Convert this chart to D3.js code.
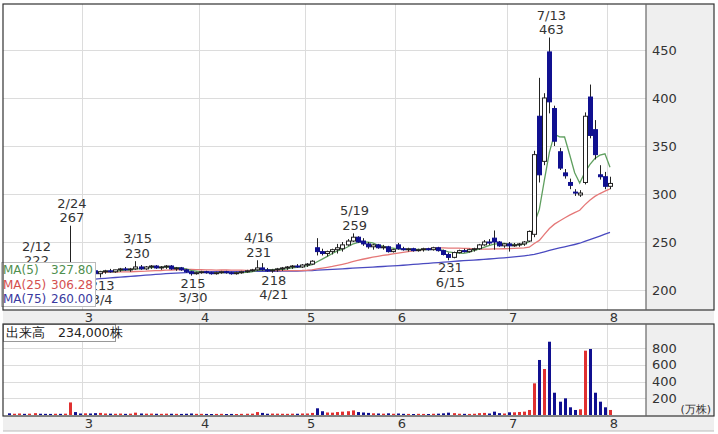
<!DOCTYPE html>
<html><head><meta charset="utf-8">
<script src="https://cdn.jsdelivr.net/npm/d3@7/dist/d3.min.js"></script>
<style>html,body{margin:0;padding:0;background:#fff;}svg{display:block;font-family:"DejaVu Sans",Verdana,sans-serif;}</style>
</head><body><svg id="c" width="718" height="434"></svg>
<script>
// ---- data ----
const dates = ["2/4","2/5","2/8","2/9","2/10","2/12","2/15","2/16","2/17","2/18","2/19","2/22","2/24","2/25","2/26",
"3/1","3/2","3/3","3/4","3/5","3/8","3/9","3/10","3/11","3/12","3/15","3/16","3/17","3/18","3/19","3/22","3/23","3/24","3/25","3/26","3/29","3/30","3/31",
"4/1","4/2","4/5","4/6","4/7","4/8","4/9","4/12","4/13","4/14","4/15","4/16","4/19","4/20","4/21","4/22","4/23","4/26","4/27","4/28","4/30",
"5/6","5/7","5/10","5/11","5/12","5/13","5/14","5/17","5/18","5/19","5/20","5/21","5/24","5/25","5/26","5/27","5/28","5/31",
"6/1","6/2","6/3","6/4","6/7","6/8","6/9","6/10","6/11","6/14","6/15","6/16","6/17","6/18","6/21","6/22","6/23","6/24","6/25","6/28","6/29","6/30",
"7/1","7/2","7/5","7/6","7/7","7/8","7/9","7/12","7/13","7/14","7/15","7/16","7/19","7/20","7/21","7/26","7/27","7/28","7/29","7/30","8/2"];
const open = [218,217,218,219,217,218,220,218,217,216,217,216,218,224,220,
219,221,220,217,219,220,219,221,222,221,222,224,222,224,225,223,224,225,222,223,221,219,217,
218,219,218,217,218,219,218,217,218,219,220,221,223,221,220,221,222,223,224,225,224,
226,227,244,240,238,240,242,243,247,251,255,251,248,245,247,244,245,240,
247,243,242,243,241,242,243,242,244,241,237,234,239,241,240,242,243,247,250,254,250,246,
248,246,247,248,251,258,381,334,448,389,344,322,312,302,299,312,401,367,320,318,308];
const high = [220,219,221,220,219,222,221,220,219,218,219,218,267,226,222,
222,223,221,220,221,222,221,223,224,223,230,226,225,226,226,225,226,226,224,224,222,220,219,
220,220,219,219,220,220,219,219,220,221,222,231,228,223,222,223,224,225,226,227,227,
228,231,254,243,241,243,248,250,253,259,256,254,250,248,248,247,246,243,
249,245,244,244,243,244,244,245,245,242,239,240,242,243,243,244,248,252,253,262,251,249,
250,249,249,251,262,345,421,405,463,392,348,326,316,305,304,385,414,377,330,323,318];
const low = [215,214,216,216,215,217,217,216,215,214,215,214,217,219,217,
218,219,216,213,217,218,218,219,220,219,221,221,221,222,222,221,222,221,220,220,218,215,216,
217,217,216,216,217,217,216,216,217,218,219,220,220,219,218,219,220,221,222,223,223,
224,226,236,236,235,237,238,240,246,250,249,246,243,242,243,242,239,239,
242,241,240,240,240,240,241,241,240,236,231,233,238,239,239,240,242,246,247,242,245,244,
240,245,245,246,250,255,312,330,384,350,325,316,305,298,297,310,358,336,315,305,305];
const close = [217,218,219,217,218,220,218,217,216,217,216,217,224,220,219,
221,220,217,219,220,219,221,222,221,222,224,222,224,225,223,224,225,222,223,221,219,217,218,
219,218,217,218,219,218,217,218,219,220,221,223,221,220,221,222,223,224,225,224,226,
227,230,240,238,240,242,244,247,251,255,250,248,245,247,244,245,240,242,
243,242,243,241,242,243,242,244,241,237,234,239,241,240,242,243,247,250,249,250,246,248,
246,247,248,250,261,341,320,400,396,355,327,319,309,301,301,381,361,341,318,308,311];
const volume = [20,15,18,14,16,22,15,14,13,15,14,16,150,35,18,
20,18,22,25,18,16,15,17,14,16,28,18,16,17,15,14,16,15,14,13,15,18,14,
14,13,12,13,14,12,13,12,14,15,16,35,25,15,17,16,15,14,16,15,18,
18,25,80,45,30,28,35,40,45,55,35,30,25,20,18,16,20,15,
18,14,13,12,14,13,12,15,16,20,28,22,15,14,13,15,22,25,18,40,22,18,
32,32,36,40,60,378,657,549,875,266,159,199,92,60,68,768,788,266,159,92,60];
const ma75 = [206.5,206.7,207,207.2,207.5,207.8,208,208.3,208.6,208.9,209.2,209.5,209.8,210.1,210.4,
210.7,211,211.4,211.8,212.2,212.6,213,213.4,213.8,214.2,214.6,215,215.4,215.8,216.2,216.6,217,217.3,217.6,217.9,218.2,218.5,218.7,
218.8,218.9,219,219,219.1,219.1,219.2,219.2,219.3,219.3,219.4,219.4,219.4,219.5,219.5,219.5,219.6,219.6,219.7,219.8,219.9,
220.1,220.3,220.6,220.9,221.2,221.5,221.8,222.1,222.4,222.7,223,223.3,223.6,223.9,224.2,224.5,224.8,225.1,
225.4,225.8,226.2,226.6,227,227.4,227.8,228.2,228.6,229,229.4,229.8,230.2,230.5,230.8,231.1,231.5,231.9,232.3,232.7,233.1,233.5,
234,234.5,235,235.6,236.3,237.2,238.4,239.8,241.3,242.6,243.8,245,246.2,247.4,248.7,250.6,252.5,254.3,256.2,258.1,260];
const priceTicks = [200,250,300,350,400,450];
const volTicks = [200,400,600,800];
const months = ["3","4","5","6","7","8"];
const monthStart = ["3/1","4/1","5/6","6/1","7/1","8/2"];
const highLabels = [["2/12",222],["2/24",267],["3/15",230],["4/16",231],["5/19",259],["7/13",463]];
const lowLabels = [["3/4",213],["3/30",215],["4/21",218],["6/15",231]];
const legendItems = [["MA(5)","327.80","#4f8f4f"],["MA(25)","306.28","#d44f4f"],["MA(75)","260.00","#3a3aa0"]];
const volumeText = "出来高　234,000株";

// ---- helpers ----
function movingAvg(arr, n){ return arr.map((_,i)=>{const s=Math.max(0,i-n+1); return d3.mean(arr.slice(s,i+1));}); }
const ma5 = movingAvg(close,5), ma25 = movingAvg(close,25);

const svg = d3.select("#c");
const L=3, R=714, PX=646, PT=4, PB=310, VT=324, VB=416, BB=431;
const x = d3.scaleLinear().domain([15,119]).range([85,610]);
const y = d3.scaleLinear().domain([200,450]).range([290,50]);
const yv = d3.scaleLinear().domain([0,800]).range([415,348]);
const idx = d3.range(dates.length);
const step = x(1)-x(0);

svg.append("rect").attr("width",718).attr("height",434).attr("fill","#fff");
svg.append("rect").attr("x",L).attr("y",PB).attr("width",R-L).attr("height",VT-PB).attr("fill","#efefef");
svg.append("rect").attr("x",L).attr("y",VB).attr("width",R-L).attr("height",BB-VB).attr("fill","#efefef");
svg.append("rect").attr("x",PX).attr("y",PT).attr("width",R-PX).attr("height",PB-PT).attr("fill","#efefef");
svg.append("rect").attr("x",PX).attr("y",VT).attr("width",R-PX).attr("height",VB-VT).attr("fill","#efefef");

const grid = svg.append("g").attr("stroke","#dcdcdc").attr("stroke-width",1);
priceTicks.forEach(t=>grid.append("line").attr("x1",L).attr("x2",PX).attr("y1",Math.round(y(t))+0.5).attr("y2",Math.round(y(t))+0.5));
volTicks.forEach(t=>grid.append("line").attr("x1",L).attr("x2",PX).attr("y1",Math.round(yv(t))+0.5).attr("y2",Math.round(yv(t))+0.5));
monthStart.forEach(d=>{const gx=Math.round(x(dates.indexOf(d))-step/2)+0.5;
  grid.append("line").attr("x1",gx).attr("x2",gx).attr("y1",PT).attr("y2",PB);
  grid.append("line").attr("x1",gx).attr("x2",gx).attr("y1",VT).attr("y2",VB);});

svg.append("clipPath").attr("id","pc").append("rect").attr("x",L).attr("y",PT).attr("width",PX-L).attr("height",PB-PT);
const pg = svg.append("g").attr("clip-path","url(#pc)");

const line = arr => d3.line().x((d,i)=>x(i)).y(d=>y(d))(arr);
pg.append("path").attr("d",line(ma75)).attr("fill","none").attr("stroke","#4a4ac0").attr("stroke-width",1.3);
pg.append("path").attr("d",line(ma25)).attr("fill","none").attr("stroke","#e57878").attr("stroke-width",1.3);
pg.append("path").attr("d",line(ma5)).attr("fill","none").attr("stroke","#5f9f5f").attr("stroke-width",1.3);

const bw=4;
idx.forEach(i=>{
  const up = close[i]>=open[i];
  const cx = Math.round(x(i))+0.5;
  pg.append("line").attr("x1",cx).attr("x2",cx).attr("y1",y(high[i])).attr("y2",y(low[i])).attr("stroke","#222").attr("stroke-width",1);
  const top=y(Math.max(open[i],close[i])), bot=y(Math.min(open[i],close[i]));
  pg.append("rect").attr("x",cx-bw/2).attr("y",top).attr("width",bw).attr("height",Math.max(1,bot-top))
    .attr("fill",up?"#fff":"#101090").attr("stroke",up?"#222":"#101090").attr("stroke-width",1);
});

idx.forEach(i=>{
  const up = close[i]>=open[i];
  svg.append("rect").attr("x",Math.round(x(i))-1).attr("y",yv(volume[i])).attr("width",3).attr("height",yv(0)-yv(volume[i]))
    .attr("fill",up?"#e03030":"#101090");
});

const ann = svg.append("g").attr("fill","#333").attr("font-size","13px").attr("text-anchor","middle");
highLabels.forEach(([d,v])=>{const i=dates.indexOf(d); const hx=x(i)+2, hy=y(v);
  ann.append("text").attr("x",hx).attr("y",hy-8).attr("dy","0.35em").text(v);
  ann.append("text").attr("x",hx).attr("y",hy-22.5).attr("dy","0.35em").text(d);});
lowLabels.forEach(([d,v])=>{const i=dates.indexOf(d); const hx=x(i)+2, hy=y(v);
  ann.append("text").attr("x",hx).attr("y",hy+7.5).attr("dy","0.35em").text(v);
  ann.append("text").attr("x",hx).attr("y",hy+22).attr("dy","0.35em").text(d);});

svg.append("rect").attr("x",1.5).attr("y",262.5).attr("width",94).attr("height",44).attr("fill","#fff").attr("stroke","#bbb");
legendItems.forEach(([n,v,c],k)=>{
  svg.append("text").attr("x",3).attr("y",270+k*14.5).attr("dy","0.35em").attr("font-size","12px").attr("fill",c).text(n);
  svg.append("text").attr("x",93).attr("y",270+k*14.5).attr("dy","0.35em").attr("font-size","12px").attr("fill",c).attr("text-anchor","end").text(v);
});

const ax = svg.append("g").attr("fill","#333").attr("font-size","13px");
priceTicks.forEach(t=>ax.append("text").attr("x",652).attr("y",y(t)).attr("dy","0.35em").text(t));
volTicks.forEach(t=>ax.append("text").attr("x",652).attr("y",yv(t)).attr("dy","0.35em").text(t));
ax.append("text").attr("x",711).attr("y",409).attr("dy","0.35em").attr("font-size","11px").attr("text-anchor","end").text("(万株)");
months.forEach((m,k)=>{const mx=x(dates.indexOf(monthStart[k]))+4;
  ax.append("text").attr("x",mx).attr("y",317).attr("dy","0.35em").attr("text-anchor","middle").text(m);
  ax.append("text").attr("x",mx).attr("y",423).attr("dy","0.35em").attr("text-anchor","middle").text(m);});

svg.append("rect").attr("x",3.5).attr("y",324.5).attr("width",112).attr("height",17).attr("fill","#fff").attr("stroke","#999");
svg.append("text").attr("x",6).attr("y",333).attr("dy","0.35em").attr("font-size","12.5px").attr("fill","#222").text(volumeText);

const fr = svg.append("g").attr("fill","none").attr("stroke","#333").attr("stroke-width",1.2);
fr.append("rect").attr("x",L).attr("y",PT).attr("width",R-L).attr("height",PB-PT);
fr.append("rect").attr("x",L).attr("y",VT).attr("width",R-L).attr("height",VB-VT);
fr.append("line").attr("x1",PX).attr("x2",PX).attr("y1",PT).attr("y2",PB).attr("stroke","#666");
fr.append("line").attr("x1",PX).attr("x2",PX).attr("y1",VT).attr("y2",VB).attr("stroke","#666");
fr.append("line").attr("x1",L).attr("x2",R).attr("y1",BB).attr("y2",BB).attr("stroke","#bbb");
</script></body></html>
